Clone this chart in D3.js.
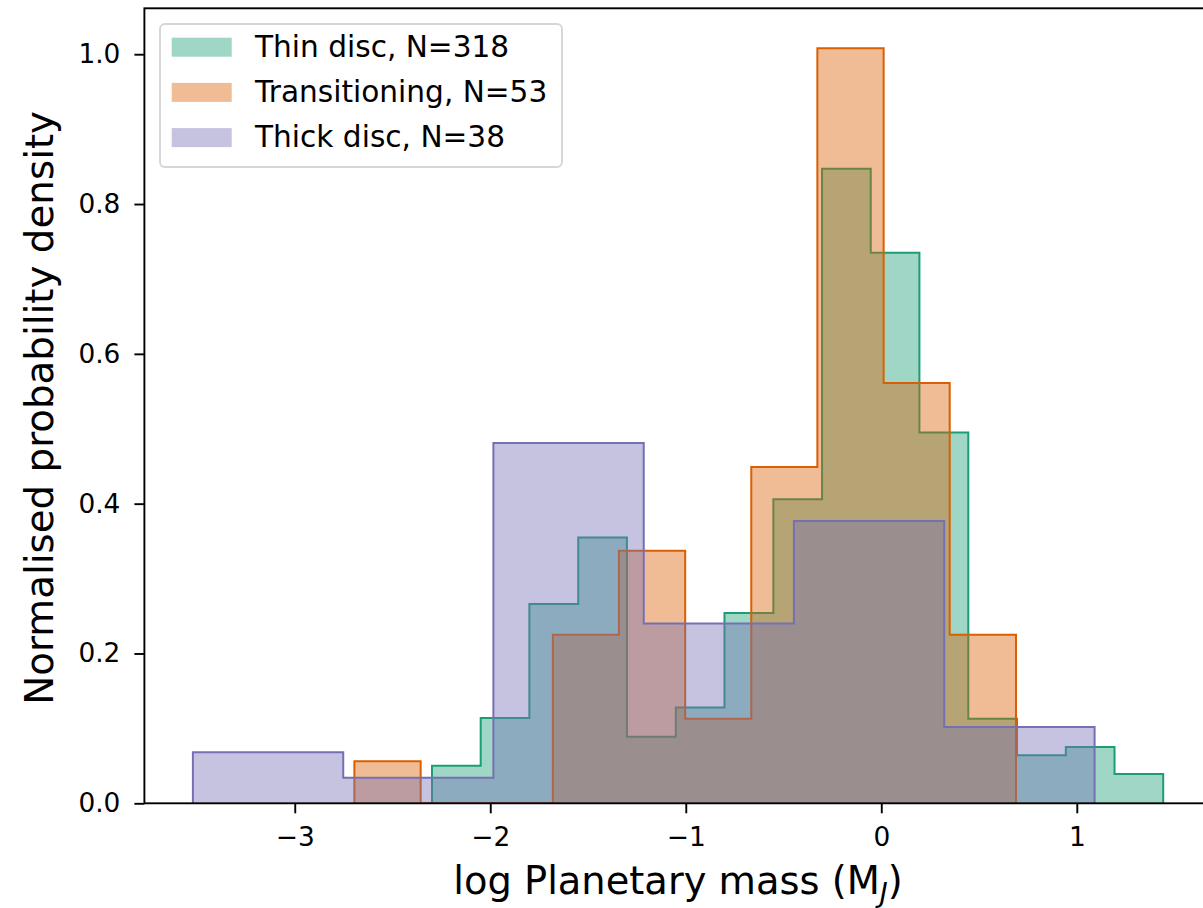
<!DOCTYPE html>
<html>
<head>
<meta charset="utf-8">
<script src="https://cdn.jsdelivr.net/npm/d3@7"></script>
<style>
  html, body { margin: 0; padding: 0; background: #ffffff; }
  svg { display: block; font-family: "DejaVu Sans", sans-serif; }
</style>
</head>
<body>
<svg id="chart" width="1203" height="908"></svg>
<script>
// Histogram bin edges (log M_J) and normalised densities for each population
const thinEdges = [-2.298, -2.049, -1.800, -1.550, -1.301, -1.051, -0.802, -0.552,
                   -0.303, -0.054, 0.195, 0.445, 0.694, 0.944, 1.193, 1.442];
const thinDensity = [0.050, 0.114, 0.266, 0.355, 0.089, 0.128, 0.254, 0.406,
                     0.847, 0.735, 0.495, 0.113, 0.064, 0.075, 0.039];

const transEdges = [-2.695, -2.356, -2.018, -1.680, -1.342, -1.003, -0.665,
                    -0.327, 0.012, 0.350, 0.689];
const transDensity = [0.056, 0, 0, 0.225, 0.337, 0.113, 0.449, 1.008, 0.561, 0.225];

const thickEdges = [-3.521, -2.752, -1.984, -1.215, -0.447, 0.322, 1.091];
const thickDensity = [0.068, 0.034, 0.481, 0.240, 0.377, 0.102];

const seriesNames = ["Thin disc, N=318", "Transitioning, N=53", "Thick disc, N=38"];
const seriesColors = ["#1b9e77", "#d95f02", "#7570b3"];

const xTicks = [-3, -2, -1, 0, 1];
const yTicks = [0.0, 0.2, 0.4, 0.6, 0.8, 1.0];

const xDomain = [-3.769, 1.690];
const yDomain = [0, 1.0613];

const svg = d3.select("#chart");
const plot = { left: 144.4, right: 1211.7, top: 8.3, bottom: 803.3 };

const x = d3.scaleLinear().domain(xDomain).range([plot.left, plot.right]);
const y = d3.scaleLinear().domain(yDomain).range([plot.bottom, plot.top]);

const series = [
  { edges: thinEdges, dens: thinDensity },
  { edges: transEdges, dens: transDensity },
  { edges: thickEdges, dens: thickDensity }
];

// Step outline of a histogram: up from the baseline, across each bin, down at the end
function stepPoints(edges, dens) {
  const pts = [[edges[0], 0]];
  dens.forEach((d, i) => {
    pts.push([edges[i], d]);
    pts.push([edges[i + 1], d]);
  });
  pts.push([edges[edges.length - 1], 0]);
  return pts;
}

const line = d3.line().x(d => x(d[0])).y(d => y(d[1]));

svg.append("clipPath").attr("id", "plotclip")
  .append("rect")
  .attr("x", plot.left).attr("y", plot.top)
  .attr("width", plot.right - plot.left).attr("height", plot.bottom - plot.top);

const marks = svg.append("g").attr("clip-path", "url(#plotclip)");

series.forEach((s, i) => {
  const pts = stepPoints(s.edges, s.dens);
  marks.append("path")
    .attr("d", line(pts) + "Z")
    .attr("fill", seriesColors[i])
    .attr("fill-opacity", 0.42)
    .attr("stroke", "none");
  marks.append("path")
    .attr("d", line(pts))
    .attr("fill", "none")
    .attr("stroke", seriesColors[i])
    .attr("stroke-width", 2)
    .attr("stroke-linejoin", "miter");
});

// Axes
const xAxis = d3.axisBottom(x).tickValues(xTicks).tickSize(10).tickPadding(14)
  .tickFormat(d3.format("d"));
const gx = svg.append("g").attr("transform", `translate(0,${plot.bottom})`).call(xAxis);
gx.select(".domain").remove();
gx.selectAll(".tick line").attr("stroke", "#000").attr("stroke-width", 1.9);
gx.selectAll(".tick text").attr("fill", "#000").style("font-size", "26.4px")
  .style("font-family", "DejaVu Sans");

const yAxis = d3.axisLeft(y).tickValues(yTicks).tickSize(10).tickPadding(14)
  .tickFormat(d3.format(".1f"));
const gy = svg.append("g").attr("transform", `translate(${plot.left},0)`).call(yAxis);
gy.select(".domain").remove();
gy.selectAll(".tick line").attr("stroke", "#000").attr("stroke-width", 1.9);
gy.selectAll(".tick text").attr("fill", "#000").style("font-size", "26.4px")
  .style("font-family", "DejaVu Sans");

// Frame of the plotting area
svg.append("rect")
  .attr("x", plot.left).attr("y", plot.top)
  .attr("width", plot.right - plot.left).attr("height", plot.bottom - plot.top)
  .attr("fill", "none").attr("stroke", "#000").attr("stroke-width", 1.9);

// Axis labels
const xl = svg.append("text")
  .attr("x", (plot.left + plot.right) / 2).attr("y", 894)
  .attr("text-anchor", "middle")
  .style("font-size", "38.4px").attr("fill", "#000");
xl.append("tspan").text("log Planetary mass (M");
xl.append("tspan").text("J").style("font-size", "27px").style("font-style", "italic")
  .attr("dy", 8);
xl.append("tspan").text(")").attr("dy", -8);

svg.append("text")
  .attr("transform", `translate(53.3,${(plot.top + plot.bottom) / 2 + 2}) rotate(-90)`)
  .attr("text-anchor", "middle")
  .style("font-size", "38.8px").attr("fill", "#000")
  .text("Normalised probability density");

// Legend
const legend = svg.append("g");
legend.append("rect")
  .attr("x", 160).attr("y", 24).attr("width", 402).attr("height", 143)
  .attr("rx", 5).attr("ry", 5)
  .attr("fill", "#ffffff").attr("fill-opacity", 0.8)
  .attr("stroke", "#d6d6d6").attr("stroke-width", 1.9);

seriesNames.forEach((name, i) => {
  const row = legend.append("g").attr("transform", `translate(0,${i * 45.2})`);
  row.append("rect")
    .attr("x", 171.7).attr("y", 37.7).attr("width", 60).attr("height", 19)
    .attr("fill", seriesColors[i]).attr("fill-opacity", 0.42);
  row.append("text")
    .attr("x", 255).attr("y", 56.7)
    .style("font-size", "29.6px").attr("fill", "#000")
    .text(name);
});
</script>
</body>
</html>
